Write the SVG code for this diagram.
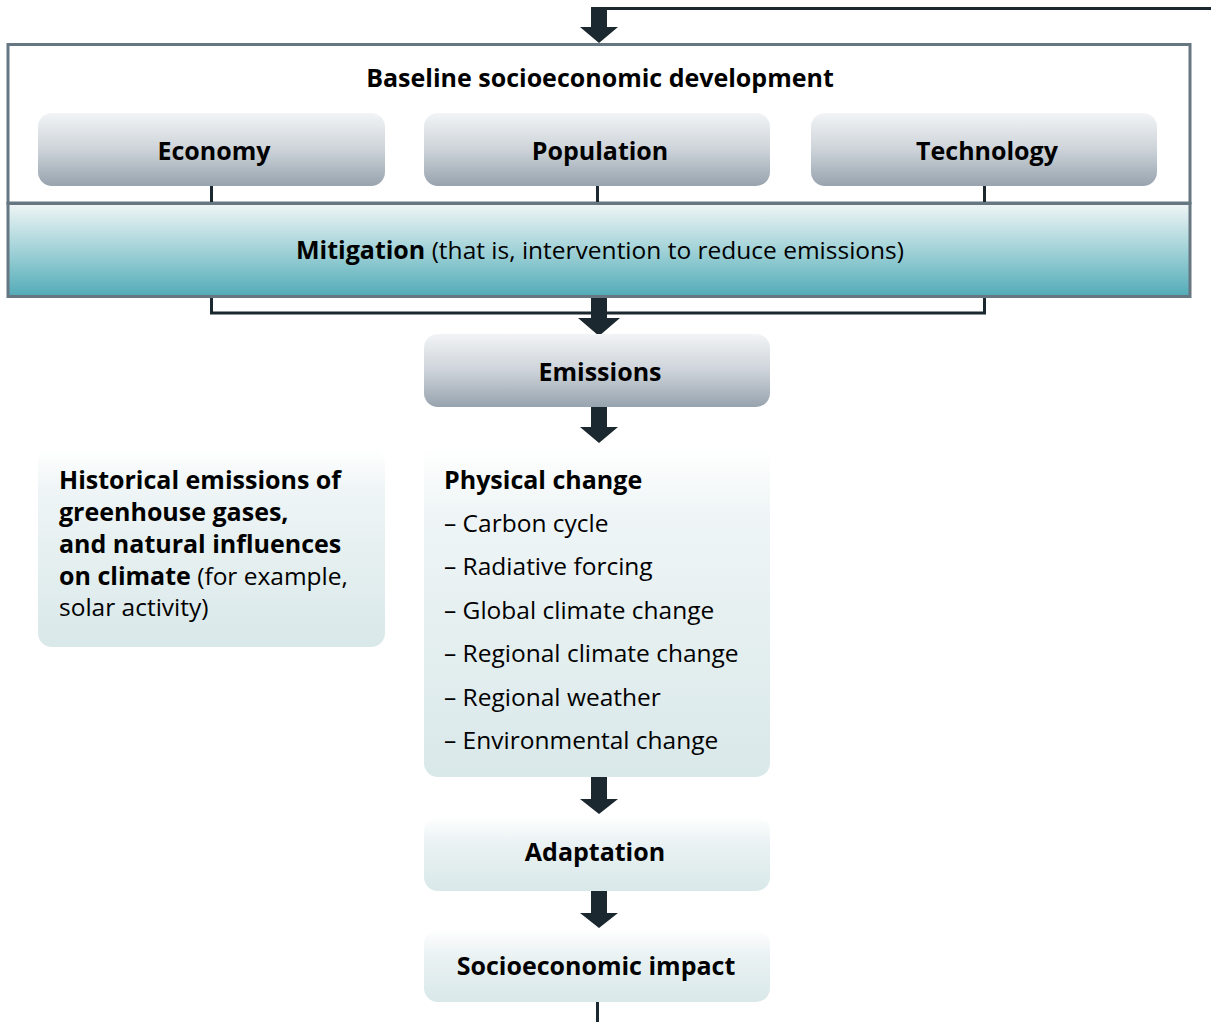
<svg xmlns="http://www.w3.org/2000/svg" width="1211" height="1022" viewBox="0 0 1211 1022">
<defs>
<linearGradient id="gGrey" x1="0" y1="0" x2="0" y2="1">
<stop offset="0" stop-color="#f2f4f6"/>
<stop offset="0.5" stop-color="#cdd3d9"/>
<stop offset="1" stop-color="#97a3ae"/>
</linearGradient>
<linearGradient id="gTeal" x1="0" y1="0" x2="0" y2="1">
<stop offset="0" stop-color="#f0f5f6"/>
<stop offset="0.45" stop-color="#a9d6db"/>
<stop offset="1" stop-color="#52abb7"/>
</linearGradient>
<linearGradient id="gLight" x1="0" y1="0" x2="0" y2="1">
<stop offset="0" stop-color="#ffffff"/>
<stop offset="0.2" stop-color="#eff5f6"/>
<stop offset="1" stop-color="#d9e8e9"/>
</linearGradient>
<linearGradient id="gLightS" x1="0" y1="0" x2="0" y2="1">
<stop offset="0" stop-color="#ffffff"/>
<stop offset="0.35" stop-color="#eaf2f3"/>
<stop offset="1" stop-color="#d9e8e9"/>
</linearGradient>
</defs>
<style>
text{font-family:"Open Sans","Noto Sans","DejaVu Sans",sans-serif;fill:#000}
.b{font-weight:700;font-size:25px}
.r{font-weight:400;font-size:24.5px}
.c{text-anchor:middle}
.frame{fill:none;stroke:#667782;stroke-width:3}
.line{fill:none;stroke:#1b2830;stroke-width:3}
.arrow{fill:#1b2830}
</style>

<g id="baseline">
<rect class="frame" x="8" y="44.5" width="1182" height="158.5" fill="#fff"/>
<text class="b c" x="600" y="87">Baseline socioeconomic development</text>
</g>

<g id="connectors">
<path class="line" d="M607 8.5 H1211"/>
<path class="line" d="M211.5 186 V203 M597.5 186 V203 M984.5 186 V203"/>
<path class="line" d="M211.5 297 V313 H984.5 V297"/>
<path class="line" d="M597.5 1002 V1022"/>
<path class="arrow" d="M591 7 H607 V27 H618 L599 43 L580 27 H591 Z"/>
<path class="arrow" d="M591 297 H607 V318 H620 L599 336 L578 318 H591 Z"/>
<path class="arrow" d="M591 407 H607 V427 H618 L599 443 L580 427 H591 Z"/>
<path class="arrow" d="M591 777 H607 V799 H618 L599 814 L580 799 H591 Z"/>
<path class="arrow" d="M591 891 H607 V913 H618 L599 928 L580 913 H591 Z"/>
</g>

<g id="economy">
<rect x="38" y="113" width="347" height="73" rx="14" fill="url(#gGrey)"/>
<text class="b c" x="214" y="160">Economy</text>
</g>
<g id="population">
<rect x="424" y="113" width="346" height="73" rx="14" fill="url(#gGrey)"/>
<text class="b c" x="600" y="160">Population</text>
</g>
<g id="technology">
<rect x="811" y="113" width="346" height="73" rx="14" fill="url(#gGrey)"/>
<text class="b c" x="987" y="160">Technology</text>
</g>

<g id="mitigation">
<rect x="8" y="203.5" width="1182" height="93" fill="url(#gTeal)" stroke="#667782" stroke-width="3"/>
<text class="c" x="600" y="259"><tspan class="b">Mitigation</tspan><tspan class="r"> (that is, intervention to reduce emissions)</tspan></text>
</g>

<g id="emissions">
<rect x="424" y="334" width="346" height="73" rx="14" fill="url(#gGrey)"/>
<text class="b c" x="600" y="381">Emissions</text>
</g>

<g id="historical">
<rect x="38" y="449" width="347" height="198" rx="14" fill="url(#gLight)"/>
<text class="b" x="59" y="489">Historical emissions of</text>
<text class="b" x="59" y="521">greenhouse gases,</text>
<text class="b" x="59" y="553">and natural influences</text>
<text x="59" y="585"><tspan class="b">on climate</tspan><tspan class="r"> (for example,</tspan></text>
<text class="r" x="59" y="616">solar activity)</text>
</g>

<g id="physical">
<rect x="424" y="447" width="346" height="330" rx="14" fill="url(#gLight)"/>
<text class="b" x="444" y="489">Physical change</text>
<text class="r" x="444" y="532">– Carbon cycle</text>
<text class="r" x="444" y="575">– Radiative forcing</text>
<text class="r" x="444" y="619">– Global climate change</text>
<text class="r" x="444" y="662">– Regional climate change</text>
<text class="r" x="444" y="706">– Regional weather</text>
<text class="r" x="444" y="749">– Environmental change</text>
</g>

<g id="adaptation">
<rect x="424" y="817" width="346" height="74" rx="14" fill="url(#gLightS)"/>
<text class="b c" x="595" y="861">Adaptation</text>
</g>

<g id="impact">
<rect x="424" y="930" width="346" height="72" rx="14" fill="url(#gLightS)"/>
<text class="b c" x="596" y="975">Socioeconomic impact</text>
</g>
</svg>
